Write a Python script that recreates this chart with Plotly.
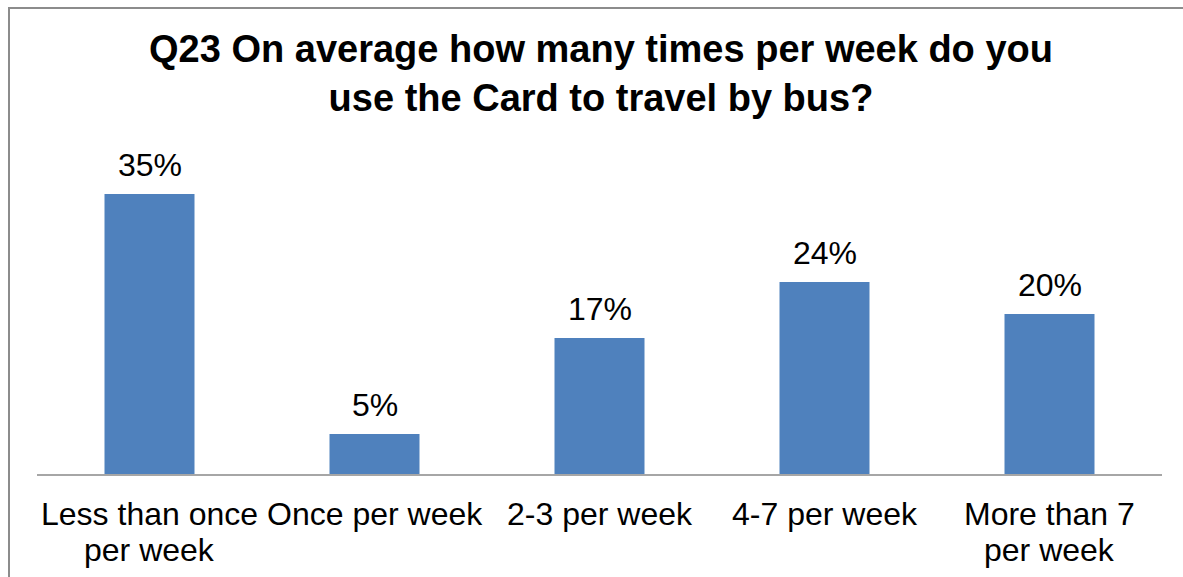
import plotly.graph_objects as go

categories = ["Less than once<br>per week", "Once per week", "2-3 per week",
              "4-7 per week", "More than 7<br>per week"]
values = [35, 5, 17, 24, 20]
value_labels = [f"{v}%" for v in values]

title_text = "Q23 On average how many times per week do you<br>use the Card to travel by bus?"

FONT = "Liberation Sans, Arial, sans-serif"
W, H = 1183, 577
m_l, m_r, m_t, m_b = 37, 21, 154, 103

fig = go.Figure(
    go.Bar(
        x=categories,
        y=values,
        marker=dict(color="#4F81BD", line=dict(width=0)),
        width=0.4,
        hoverinfo="x+y",
    )
)

# value labels above each bar
for cat, val, lab in zip(categories, values, value_labels):
    fig.add_annotation(x=cat, y=val, xref="x", yref="y", text=lab,
                       showarrow=False, yanchor="middle", yshift=29,
                       font=dict(family=FONT, size=32, color="#000000"))

# category labels under the axis, one annotation per text line
for cat in categories:
    for i, line in enumerate(cat.split("<br>")):
        fig.add_annotation(x=cat, y=0, xref="x", yref="paper", text=line,
                           showarrow=False, yanchor="middle", yshift=-40 - 36 * i,
                           font=dict(family=FONT, size=32, color="#000000"))

# chart frame: a bordered box whose right and bottom sides fall outside the page
pw = W - m_l - m_r
ph = H - m_t - m_b
fig.add_annotation(
    x=(7.5 - m_l) / pw, y=(H - 7 - m_b) / ph, xref="paper", yref="paper",
    xanchor="left", yanchor="top", text=" ", showarrow=False,
    width=W + 40, height=H + 40, borderpad=0,
    bordercolor="#8C8C8C", borderwidth=2, bgcolor="rgba(0,0,0,0)",
    font=dict(size=4),
)

fig.update_layout(
    width=W,
    height=H,
    margin=dict(l=m_l, r=m_r, t=m_t, b=m_b, pad=0),
    paper_bgcolor="#FFFFFF",
    plot_bgcolor="#FFFFFF",
    showlegend=False,
    font=dict(family=FONT, color="#000000"),
    title=dict(
        text=title_text,
        x=601 / W,
        xanchor="center",
        y=1 - 62 / H,
        yanchor="middle",
        font=dict(family=FONT, size=38, color="#000000", weight="bold"),
    ),
    xaxis=dict(
        showline=True,
        linecolor="#A6A6A6",
        linewidth=2,
        ticks="",
        showgrid=False,
        showticklabels=False,
    ),
    yaxis=dict(
        range=[0, 40],
        visible=False,
        showgrid=False,
        zeroline=False,
    ),
)

fig.write_html("out.html", config={"displayModeBar": False})
